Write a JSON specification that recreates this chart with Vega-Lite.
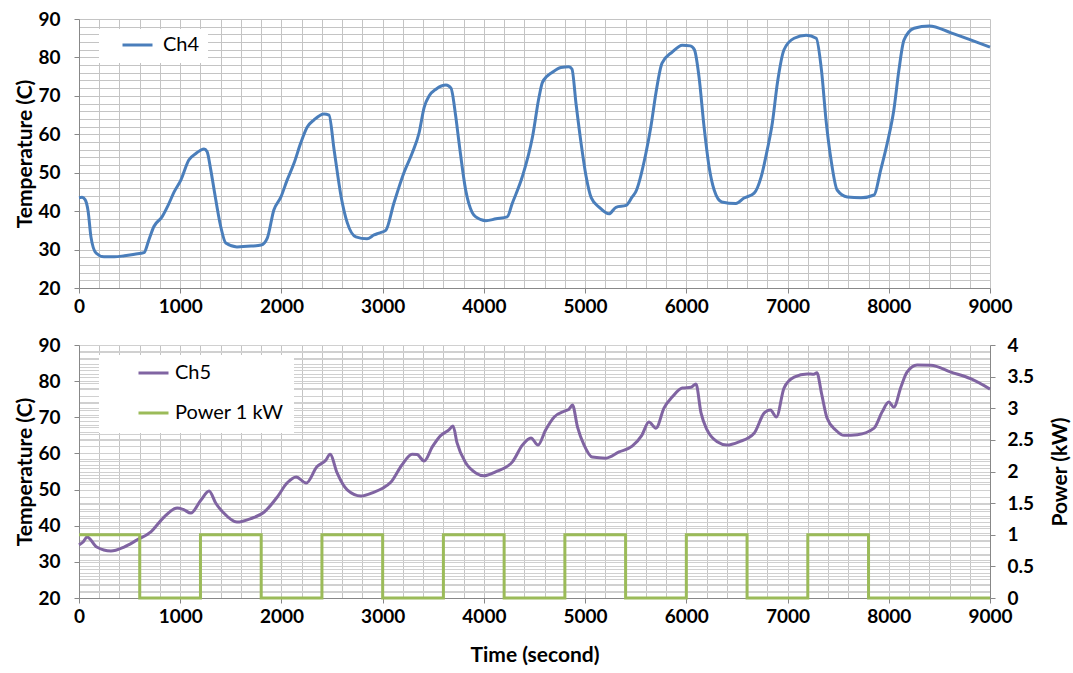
{
  "$schema": "https://vega.github.io/schema/vega-lite/v6.json",
  "padding": {"left": 14, "top": 10, "right": 5, "bottom": 5},
  "background": "white",
  "config": {"view": {"stroke": null}, "font": "Lato"},
  "datasets": {
    "ch4": [
      {"t":0,"v":43.5,"series":"Ch4"},{"t":30,"v":43.6,"series":"Ch4"},{"t":60,"v":43,"series":"Ch4"},{"t":90,"v":40,"series":"Ch4"},{"t":118,"v":33.3,"series":"Ch4"},{"t":168,"v":29.1,"series":"Ch4"},{"t":247,"v":28.1,"series":"Ch4"},{"t":350,"v":28.1,"series":"Ch4"},{"t":450,"v":28.4,"series":"Ch4"},{"t":550,"v":28.8,"series":"Ch4"},{"t":642,"v":29.2,"series":"Ch4"},{"t":690,"v":32.5,"series":"Ch4"},{"t":740,"v":36,"series":"Ch4"},{"t":820,"v":38.5,"series":"Ch4"},{"t":880,"v":41.5,"series":"Ch4"},{"t":940,"v":45,"series":"Ch4"},{"t":1005,"v":48,"series":"Ch4"},{"t":1085,"v":53.3,"series":"Ch4"},{"t":1155,"v":55,"series":"Ch4"},{"t":1235,"v":56.2,"series":"Ch4"},{"t":1265,"v":55.5,"series":"Ch4"},{"t":1300,"v":51,"series":"Ch4"},{"t":1335,"v":45.5,"series":"Ch4"},{"t":1400,"v":36,"series":"Ch4"},{"t":1450,"v":31.7,"series":"Ch4"},{"t":1560,"v":30.7,"series":"Ch4"},{"t":1700,"v":30.9,"series":"Ch4"},{"t":1800,"v":31.2,"series":"Ch4"},{"t":1860,"v":33,"series":"Ch4"},{"t":1925,"v":40.3,"series":"Ch4"},{"t":1995,"v":43.7,"series":"Ch4"},{"t":2055,"v":48,"series":"Ch4"},{"t":2125,"v":52.5,"series":"Ch4"},{"t":2190,"v":57.7,"series":"Ch4"},{"t":2255,"v":61.9,"series":"Ch4"},{"t":2320,"v":63.7,"series":"Ch4"},{"t":2420,"v":65.3,"series":"Ch4"},{"t":2470,"v":65,"series":"Ch4"},{"t":2520,"v":56,"series":"Ch4"},{"t":2590,"v":43.7,"series":"Ch4"},{"t":2650,"v":37,"series":"Ch4"},{"t":2735,"v":33.3,"series":"Ch4"},{"t":2845,"v":32.8,"series":"Ch4"},{"t":2915,"v":33.8,"series":"Ch4"},{"t":2964,"v":34.3,"series":"Ch4"},{"t":3030,"v":35,"series":"Ch4"},{"t":3110,"v":42,"series":"Ch4"},{"t":3210,"v":50,"series":"Ch4"},{"t":3290,"v":55,"series":"Ch4"},{"t":3360,"v":60.4,"series":"Ch4"},{"t":3410,"v":67,"series":"Ch4"},{"t":3460,"v":70,"series":"Ch4"},{"t":3530,"v":71.8,"series":"Ch4"},{"t":3626,"v":72.8,"series":"Ch4"},{"t":3675,"v":72,"series":"Ch4"},{"t":3720,"v":65,"series":"Ch4"},{"t":3755,"v":57.7,"series":"Ch4"},{"t":3820,"v":45.5,"series":"Ch4"},{"t":3885,"v":39.6,"series":"Ch4"},{"t":3920,"v":38.5,"series":"Ch4"},{"t":4020,"v":37.5,"series":"Ch4"},{"t":4120,"v":38,"series":"Ch4"},{"t":4230,"v":38.5,"series":"Ch4"},{"t":4280,"v":42,"series":"Ch4"},{"t":4380,"v":49,"series":"Ch4"},{"t":4480,"v":59.3,"series":"Ch4"},{"t":4545,"v":69.7,"series":"Ch4"},{"t":4580,"v":73.6,"series":"Ch4"},{"t":4680,"v":76.2,"series":"Ch4"},{"t":4760,"v":77.4,"series":"Ch4"},{"t":4840,"v":77.6,"series":"Ch4"},{"t":4870,"v":77,"series":"Ch4"},{"t":4910,"v":68,"series":"Ch4"},{"t":4960,"v":57.7,"series":"Ch4"},{"t":5010,"v":49,"series":"Ch4"},{"t":5060,"v":43.5,"series":"Ch4"},{"t":5140,"v":41,"series":"Ch4"},{"t":5236,"v":39.3,"series":"Ch4"},{"t":5305,"v":41,"series":"Ch4"},{"t":5405,"v":41.5,"series":"Ch4"},{"t":5465,"v":43.7,"series":"Ch4"},{"t":5500,"v":45,"series":"Ch4"},{"t":5600,"v":55,"series":"Ch4"},{"t":5650,"v":62,"series":"Ch4"},{"t":5700,"v":70.8,"series":"Ch4"},{"t":5760,"v":78.5,"series":"Ch4"},{"t":5860,"v":81.4,"series":"Ch4"},{"t":5960,"v":83.2,"series":"Ch4"},{"t":6040,"v":83,"series":"Ch4"},{"t":6080,"v":82,"series":"Ch4"},{"t":6125,"v":75,"series":"Ch4"},{"t":6175,"v":62,"series":"Ch4"},{"t":6225,"v":51.5,"series":"Ch4"},{"t":6275,"v":45.5,"series":"Ch4"},{"t":6350,"v":42.4,"series":"Ch4"},{"t":6490,"v":42,"series":"Ch4"},{"t":6570,"v":43.4,"series":"Ch4"},{"t":6670,"v":44.7,"series":"Ch4"},{"t":6740,"v":49,"series":"Ch4"},{"t":6800,"v":56,"series":"Ch4"},{"t":6850,"v":63,"series":"Ch4"},{"t":6900,"v":73.4,"series":"Ch4"},{"t":6965,"v":82,"series":"Ch4"},{"t":7065,"v":85,"series":"Ch4"},{"t":7185,"v":85.8,"series":"Ch4"},{"t":7283,"v":85,"series":"Ch4"},{"t":7335,"v":76.7,"series":"Ch4"},{"t":7380,"v":63.7,"series":"Ch4"},{"t":7430,"v":53.3,"series":"Ch4"},{"t":7490,"v":45.5,"series":"Ch4"},{"t":7590,"v":43.7,"series":"Ch4"},{"t":7725,"v":43.5,"series":"Ch4"},{"t":7855,"v":44.2,"series":"Ch4"},{"t":7920,"v":50.7,"series":"Ch4"},{"t":7985,"v":57.7,"series":"Ch4"},{"t":8050,"v":66.3,"series":"Ch4"},{"t":8100,"v":76.7,"series":"Ch4"},{"t":8150,"v":84.5,"series":"Ch4"},{"t":8250,"v":87.6,"series":"Ch4"},{"t":8400,"v":88.2,"series":"Ch4"},{"t":8615,"v":86.4,"series":"Ch4"},{"t":8815,"v":84.5,"series":"Ch4"},{"t":9000,"v":82.7,"series":"Ch4"}
    ],
    "ch5": [
      {"t":0,"v":34.7,"series":"Ch5"},{"t":40,"v":35.5,"series":"Ch5"},{"t":80,"v":36.9,"series":"Ch5"},{"t":175,"v":34.1,"series":"Ch5"},{"t":315,"v":33,"series":"Ch5"},{"t":445,"v":34.1,"series":"Ch5"},{"t":570,"v":36,"series":"Ch5"},{"t":710,"v":38.3,"series":"Ch5"},{"t":840,"v":42.4,"series":"Ch5"},{"t":970,"v":44.9,"series":"Ch5"},{"t":1030,"v":44.5,"series":"Ch5"},{"t":1105,"v":43.5,"series":"Ch5"},{"t":1205,"v":47.1,"series":"Ch5"},{"t":1285,"v":49.6,"series":"Ch5"},{"t":1350,"v":46.3,"series":"Ch5"},{"t":1430,"v":43.5,"series":"Ch5"},{"t":1560,"v":41,"series":"Ch5"},{"t":1700,"v":42,"series":"Ch5"},{"t":1830,"v":43.8,"series":"Ch5"},{"t":1960,"v":48,"series":"Ch5"},{"t":2055,"v":51.8,"series":"Ch5"},{"t":2145,"v":53.5,"series":"Ch5"},{"t":2245,"v":51.8,"series":"Ch5"},{"t":2350,"v":56.3,"series":"Ch5"},{"t":2440,"v":58.2,"series":"Ch5"},{"t":2480,"v":59.8,"series":"Ch5"},{"t":2550,"v":54.6,"series":"Ch5"},{"t":2650,"v":49.9,"series":"Ch5"},{"t":2785,"v":48.2,"series":"Ch5"},{"t":2915,"v":49.3,"series":"Ch5"},{"t":2995,"v":50.3,"series":"Ch5"},{"t":3080,"v":52,"series":"Ch5"},{"t":3190,"v":56.8,"series":"Ch5"},{"t":3290,"v":59.8,"series":"Ch5"},{"t":3340,"v":59.7,"series":"Ch5"},{"t":3410,"v":57.9,"series":"Ch5"},{"t":3490,"v":61.8,"series":"Ch5"},{"t":3575,"v":65,"series":"Ch5"},{"t":3655,"v":66.5,"series":"Ch5"},{"t":3695,"v":67.6,"series":"Ch5"},{"t":3735,"v":62.9,"series":"Ch5"},{"t":3820,"v":57.4,"series":"Ch5"},{"t":3920,"v":54.6,"series":"Ch5"},{"t":4000,"v":53.8,"series":"Ch5"},{"t":4115,"v":54.9,"series":"Ch5"},{"t":4280,"v":57.6,"series":"Ch5"},{"t":4380,"v":62.3,"series":"Ch5"},{"t":4465,"v":64.3,"series":"Ch5"},{"t":4535,"v":62.3,"series":"Ch5"},{"t":4610,"v":66.5,"series":"Ch5"},{"t":4695,"v":70.1,"series":"Ch5"},{"t":4795,"v":71.7,"series":"Ch5"},{"t":4840,"v":72.2,"series":"Ch5"},{"t":4875,"v":73.4,"series":"Ch5"},{"t":4925,"v":67.3,"series":"Ch5"},{"t":4990,"v":62.3,"series":"Ch5"},{"t":5070,"v":59,"series":"Ch5"},{"t":5205,"v":58.7,"series":"Ch5"},{"t":5335,"v":60.4,"series":"Ch5"},{"t":5465,"v":62,"series":"Ch5"},{"t":5560,"v":65,"series":"Ch5"},{"t":5630,"v":68.7,"series":"Ch5"},{"t":5700,"v":67,"series":"Ch5"},{"t":5780,"v":72.6,"series":"Ch5"},{"t":5860,"v":75.6,"series":"Ch5"},{"t":5960,"v":78.1,"series":"Ch5"},{"t":6045,"v":78.3,"series":"Ch5"},{"t":6095,"v":79.2,"series":"Ch5"},{"t":6145,"v":71.2,"series":"Ch5"},{"t":6205,"v":66.5,"series":"Ch5"},{"t":6305,"v":63.2,"series":"Ch5"},{"t":6400,"v":62.3,"series":"Ch5"},{"t":6520,"v":63.2,"series":"Ch5"},{"t":6670,"v":65.6,"series":"Ch5"},{"t":6770,"v":71.2,"series":"Ch5"},{"t":6830,"v":72,"series":"Ch5"},{"t":6890,"v":70.1,"series":"Ch5"},{"t":6965,"v":78.1,"series":"Ch5"},{"t":7065,"v":81.1,"series":"Ch5"},{"t":7195,"v":82,"series":"Ch5"},{"t":7260,"v":81.9,"series":"Ch5"},{"t":7290,"v":82.3,"series":"Ch5"},{"t":7335,"v":76.7,"series":"Ch5"},{"t":7390,"v":69.8,"series":"Ch5"},{"t":7475,"v":66.5,"series":"Ch5"},{"t":7560,"v":65,"series":"Ch5"},{"t":7690,"v":65.2,"series":"Ch5"},{"t":7855,"v":67,"series":"Ch5"},{"t":7935,"v":71.5,"series":"Ch5"},{"t":8000,"v":74.2,"series":"Ch5"},{"t":8050,"v":72.8,"series":"Ch5"},{"t":8120,"v":78.4,"series":"Ch5"},{"t":8180,"v":82.5,"series":"Ch5"},{"t":8280,"v":84.5,"series":"Ch5"},{"t":8415,"v":84.4,"series":"Ch5"},{"t":8615,"v":82.5,"series":"Ch5"},{"t":8815,"v":80.6,"series":"Ch5"},{"t":9000,"v":77.8,"series":"Ch5"}
    ],
    "power": [
      {"t":0,"p":1,"series":"Power 1 kW"},{"t":600,"p":0,"series":"Power 1 kW"},{"t":1200,"p":1,"series":"Power 1 kW"},{"t":1800,"p":0,"series":"Power 1 kW"},{"t":2400,"p":1,"series":"Power 1 kW"},{"t":3000,"p":0,"series":"Power 1 kW"},{"t":3600,"p":1,"series":"Power 1 kW"},{"t":4200,"p":0,"series":"Power 1 kW"},{"t":4800,"p":1,"series":"Power 1 kW"},{"t":5400,"p":0,"series":"Power 1 kW"},{"t":6000,"p":1,"series":"Power 1 kW"},{"t":6600,"p":0,"series":"Power 1 kW"},{"t":7200,"p":1,"series":"Power 1 kW"},{"t":7800,"p":0,"series":"Power 1 kW"},{"t":9000,"p":0,"series":"Power 1 kW"}
    ]
  },
  "vconcat": [
    {
      "width": 911,
      "height": 269,
      "layer": [
        {
          "data": {"name": "ch4"},
          "mark": {"type": "line", "strokeOpacity": 0},
          "encoding": {
            "x": {"field": "t", "type": "quantitative", "scale": {"domain": [0, 9000], "nice": false, "zero": false},
              "axis": {"orient": "bottom", "values": [0,200,400,600,800,1000,1200,1400,1600,1800,2000,2200,2400,2600,2800,3000,3200,3400,3600,3800,4000,4200,4400,4600,4800,5000,5200,5400,5600,5800,6000,6200,6400,6600,6800,7000,7200,7400,7600,7800,8000,8200,8400,8600,8800,9000],
                "grid": true, "gridColor": "#c4c4c4", "labels": false, "ticks": false, "domain": false, "title": null}},
            "y": {"field": "v", "type": "quantitative", "scale": {"domain": [20, 90], "nice": false, "zero": false},
              "axis": {"orient": "left", "values": [20,22,24,26,28,30,32,34,36,38,40,42,44,46,48,50,52,54,56,58,60,62,64,66,68,70,72,74,76,78,80,82,84,86,88,90],
                "grid": true, "gridColor": "#c4c4c4", "labels": false, "ticks": false, "domain": false, "title": null}}
          }
        },
        {
          "data": {"name": "ch4"},
          "mark": {"type": "line", "strokeWidth": 3, "interpolate": "monotone"},
          "encoding": {
            "x": {"field": "t", "type": "quantitative", "scale": {"domain": [0, 9000], "nice": false, "zero": false},
              "axis": {"orient": "bottom", "values": [0,1000,2000,3000,4000,5000,6000,7000,8000,9000], "format": "d", "labelFlush": false, "grid": false, "domainColor": "#888888", "tickColor": "#888888", "tickSize": 5,
                "labelFont": "Lato", "labelFontWeight": "bold", "labelFontSize": 19, "labelColor": "#000000", "labelPadding": 4, "title": null}},
            "y": {"field": "v", "type": "quantitative", "scale": {"domain": [20, 90], "nice": false, "zero": false},
              "axis": {"orient": "left", "values": [20,30,40,50,60,70,80,90], "grid": false, "domainColor": "#888888", "tickColor": "#888888", "tickSize": 5,
                "labelFont": "Lato", "labelFontWeight": "bold", "labelFontSize": 19, "labelColor": "#000000", "labelPadding": 14,
                "title": "Temperature (C)", "titleFont": "Lato", "titleFontWeight": "bold", "titleFontSize": 21, "titleColor": "#000000", "titlePadding": 2}},
            "color": {"field": "series", "type": "nominal", "scale": {"domain": ["Ch4"], "range": ["#4a7ebb"]},
              "legend": {"orient": "none", "legendX": 20, "legendY": 10, "title": null, "fillColor": "white", "padding": 8,
                "symbolType": "stroke", "symbolStrokeWidth": 3, "symbolSize": 900, "symbolOffset": 14, "labelOffset": 9, "clipHeight": 16,
                "labelFont": "Lato", "labelFontSize": 20, "labelColor": "#000000"}}
          }
        }
      ],
      "resolve": {"axis": {"x": "independent", "y": "independent"}}
    },
    {
      "width": 911,
      "height": 253,
      "layer": [
        {
          "data": {"name": "ch5"},
          "mark": {"type": "line", "strokeOpacity": 0},
          "encoding": {
            "x": {"field": "t", "type": "quantitative", "scale": {"domain": [0, 9000], "nice": false, "zero": false},
              "axis": {"orient": "bottom", "values": [0,200,400,600,800,1000,1200,1400,1600,1800,2000,2200,2400,2600,2800,3000,3200,3400,3600,3800,4000,4200,4400,4600,4800,5000,5200,5400,5600,5800,6000,6200,6400,6600,6800,7000,7200,7400,7600,7800,8000,8200,8400,8600,8800,9000],
                "grid": true, "gridColor": "#c4c4c4", "labels": false, "ticks": false, "domain": false, "title": null}},
            "y": {"field": "v", "type": "quantitative", "scale": {"domain": [20, 90], "nice": false, "zero": false},
              "axis": {"orient": "left", "values": [20,22,24,26,28,30,32,34,36,38,40,42,44,46,48,50,52,54,56,58,60,62,64,66,68,70,72,74,76,78,80,82,84,86,88,90],
                "grid": true, "gridColor": "#d0d0d0", "labels": false, "ticks": false, "domain": false, "title": null}}
          }
        },
        {
          "data": {"name": "power"},
          "mark": {"type": "line", "strokeOpacity": 0},
          "encoding": {
            "x": {"field": "t", "type": "quantitative", "scale": {"domain": [0, 9000], "nice": false, "zero": false}, "axis": null},
            "y": {"field": "p", "type": "quantitative", "scale": {"domain": [0, 4], "nice": false, "zero": false},
              "axis": {"orient": "right", "values": [0,0.1,0.2,0.3,0.4,0.5,0.6,0.7,0.8,0.9,1,1.1,1.2,1.3,1.4,1.5,1.6,1.7,1.8,1.9,2,2.1,2.2,2.3,2.4,2.5,2.6,2.7,2.8,2.9,3,3.1,3.2,3.3,3.4,3.5,3.6,3.7,3.8,3.9,4],
                "grid": true, "gridColor": "#d0d0d0", "labels": false, "ticks": false, "domain": false, "title": null}}
          }
        },
        {
          "data": {"name": "ch5"},
          "mark": {"type": "line", "strokeWidth": 3, "interpolate": "monotone"},
          "encoding": {
            "x": {"field": "t", "type": "quantitative", "scale": {"domain": [0, 9000], "nice": false, "zero": false},
              "axis": {"orient": "bottom", "values": [0,1000,2000,3000,4000,5000,6000,7000,8000,9000], "format": "d", "labelFlush": false, "grid": false, "domainColor": "#888888", "tickColor": "#888888", "tickSize": 5,
                "labelFont": "Lato", "labelFontWeight": "bold", "labelFontSize": 19, "labelColor": "#000000", "labelPadding": 4,
                "title": "Time (second)", "titleFont": "Lato", "titleFontWeight": "bold", "titleFontSize": 21, "titleColor": "#000000", "titlePadding": 18}},
            "y": {"field": "v", "type": "quantitative", "scale": {"domain": [20, 90], "nice": false, "zero": false},
              "axis": {"orient": "left", "values": [20,30,40,50,60,70,80,90], "grid": false, "domainColor": "#888888", "tickColor": "#888888", "tickSize": 5,
                "labelFont": "Lato", "labelFontWeight": "bold", "labelFontSize": 19, "labelColor": "#000000", "labelPadding": 14,
                "title": "Temperature (C)", "titleFont": "Lato", "titleFontWeight": "bold", "titleFontSize": 21, "titleColor": "#000000", "titlePadding": 2}},
            "color": {"field": "series", "type": "nominal", "scale": {"domain": ["Ch5", "Power 1 kW"], "range": ["#8064a2", "#9bbb59"]},
              "legend": {"orient": "none", "legendX": 20, "legendY": 10, "title": null, "fillColor": "white", "padding": 10,
                "symbolType": "stroke", "symbolStrokeWidth": 3, "symbolSize": 900, "symbolOffset": 28, "labelOffset": 5, "clipHeight": 16, "rowPadding": 20,
                "labelFont": "Lato", "labelFontSize": 20, "labelColor": "#000000"}}
          }
        },
        {
          "data": {"name": "power"},
          "mark": {"type": "line", "strokeWidth": 3, "interpolate": "step-after"},
          "encoding": {
            "x": {"field": "t", "type": "quantitative", "scale": {"domain": [0, 9000], "nice": false, "zero": false}, "axis": null},
            "y": {"field": "p", "type": "quantitative", "scale": {"domain": [0, 4], "nice": false, "zero": false},
              "axis": {"orient": "right", "values": [0,0.5,1,1.5,2,2.5,3,3.5,4], "format": "~g", "grid": false, "domainColor": "#888888", "tickColor": "#888888", "tickSize": 5,
                "labelFont": "Lato", "labelFontWeight": "bold", "labelFontSize": 19, "labelColor": "#000000", "labelPadding": 12,
                "title": "Power (kW)", "titleAngle": 270, "titleBaseline": "top", "titleFont": "Lato", "titleFontWeight": "bold", "titleFontSize": 21, "titleColor": "#000000", "titlePadding": 16}},
            "color": {"field": "series", "type": "nominal"}
          }
        }
      ],
      "resolve": {"scale": {"y": "independent"}, "axis": {"x": "independent", "y": "independent"}}
    }
  ],
  "spacing": 57,
  "bounds": "flush",
  "resolve": {"scale": {"color": "independent"}, "legend": {"color": "independent"}}
}
